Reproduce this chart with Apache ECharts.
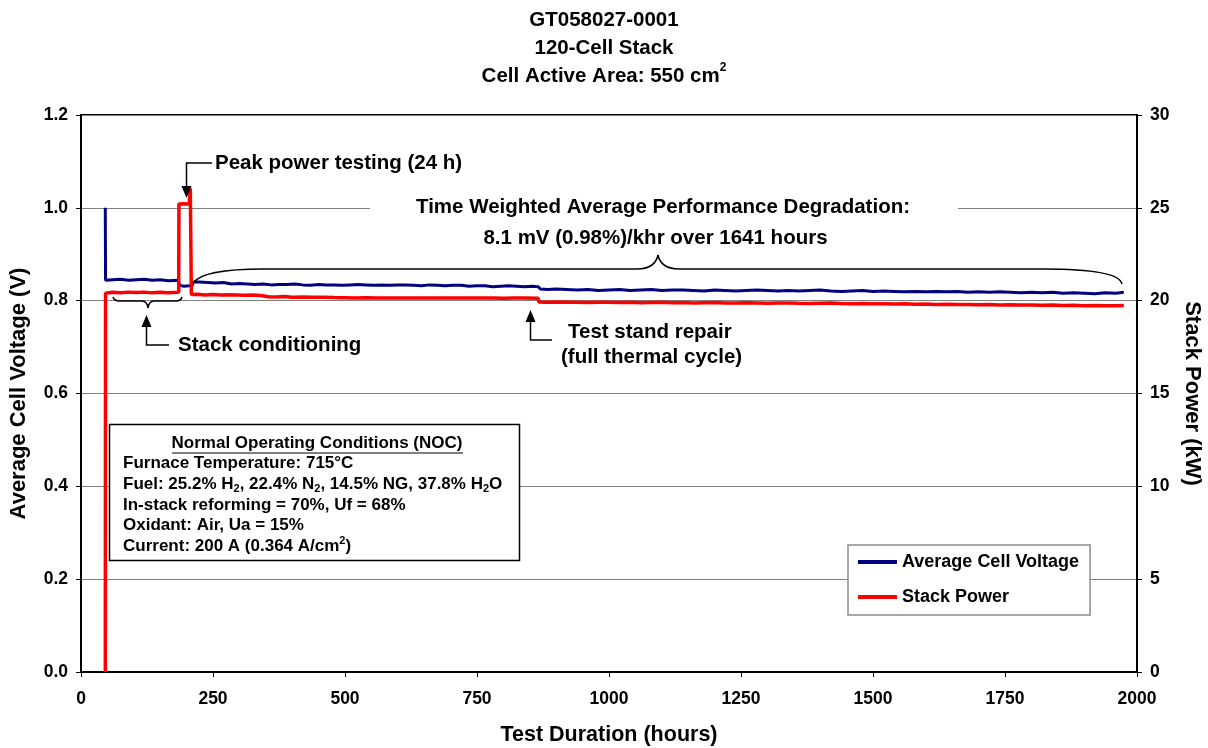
<!DOCTYPE html>
<html>
<head>
<meta charset="utf-8">
<script src="https://cdn.jsdelivr.net/npm/echarts@6/dist/echarts.min.js"></script>
<style>
  html, body { margin: 0; padding: 0; background: #fff; }
  #chart { width: 1208px; height: 748px; }
</style>
</head>
<body>
<div id="chart"></div>
<script>
// Average cell voltage (V) against test hours
const voltageHours = [
  46, 46.5, 60, 75, 90, 105, 120, 135, 150, 165, 184, 187, 195, 205, 211, 213,
  225, 240, 255, 270, 285, 300, 315, 330, 345, 360, 375, 390, 405, 420, 435, 450,
  465, 480, 495, 510, 525, 540, 555, 570, 585, 600, 615, 630, 645, 660, 675, 690,
  705, 720, 735, 750, 765, 780, 795, 810, 825, 840, 855, 866, 870, 885, 900, 920,
  940, 960, 980, 1000, 1020, 1040, 1060, 1080, 1100, 1120, 1140, 1160, 1180, 1200,
  1220, 1240, 1260, 1280, 1300, 1320, 1340, 1360, 1380, 1400, 1420, 1440, 1460,
  1480, 1500, 1520, 1540, 1560, 1580, 1600, 1620, 1640, 1660, 1680, 1700, 1720,
  1740, 1760, 1780, 1800, 1820, 1840, 1860, 1880, 1900, 1920, 1940, 1960, 1975
];
const voltage = [
  1.000, 0.844, 0.845, 0.846, 0.844, 0.845, 0.846, 0.844, 0.845, 0.843, 0.844, 0.833, 0.831, 0.832, 0.833, 0.840,
  0.840, 0.839, 0.838, 0.839, 0.836, 0.837, 0.836, 0.835, 0.836, 0.834, 0.835, 0.835, 0.836, 0.834, 0.833, 0.835,
  0.834, 0.834, 0.833, 0.834, 0.835, 0.834, 0.833, 0.834, 0.833, 0.834, 0.834, 0.833, 0.832, 0.834, 0.833, 0.832,
  0.833, 0.833, 0.831, 0.832, 0.832, 0.830, 0.831, 0.832, 0.831, 0.830, 0.831, 0.830, 0.825, 0.824, 0.825, 0.824,
  0.823, 0.824, 0.822, 0.823, 0.824, 0.822, 0.823, 0.824, 0.822, 0.823, 0.823, 0.822, 0.821, 0.823,
  0.822, 0.821, 0.822, 0.823, 0.822, 0.821, 0.822, 0.821, 0.822, 0.823, 0.821, 0.820, 0.821,
  0.822, 0.820, 0.821, 0.820, 0.819, 0.820, 0.819, 0.820, 0.819, 0.820, 0.818, 0.819, 0.818,
  0.819, 0.818, 0.817, 0.818, 0.817, 0.818, 0.816, 0.817, 0.816, 0.815, 0.817, 0.816, 0.818
];

// Stack power (kW) against test hours
const powerHours = [
  46, 46.5, 60, 75, 90, 105, 120, 135, 150, 165, 185, 185.5, 196, 205, 207, 209,
  220, 235, 250, 265, 280, 295, 310, 325, 340, 355, 370, 385, 400, 420, 440, 460,
  480, 500, 520, 540, 560, 580, 600, 620, 640, 660, 680, 700, 720, 740, 760, 780,
  800, 820, 840, 866, 867, 880, 900, 920, 940, 960, 980, 1000, 1020, 1040, 1060,
  1080, 1100, 1120, 1140, 1160, 1180, 1200, 1220, 1240, 1260, 1280, 1300, 1320,
  1340, 1360, 1380, 1400, 1420, 1440, 1460, 1480, 1500, 1520, 1540, 1560, 1580,
  1600, 1620, 1640, 1660, 1680, 1700, 1720, 1740, 1760, 1780, 1800, 1820, 1840,
  1860, 1880, 1900, 1920, 1940, 1960, 1975
];
const power = [
  0, 20.40, 20.45, 20.43, 20.46, 20.44, 20.46, 20.42, 20.45, 20.43, 20.45, 25.20, 25.22, 25.20, 26.05, 20.33,
  20.34, 20.31, 20.33, 20.30, 20.32, 20.31, 20.29, 20.30, 20.28, 20.21, 20.20, 20.22, 20.19, 20.20, 20.18, 20.19,
  20.17, 20.16, 20.15, 20.16, 20.15, 20.14, 20.15, 20.15, 20.14, 20.15, 20.14, 20.15, 20.14, 20.14, 20.15, 20.14,
  20.13, 20.14, 20.14, 20.13, 19.93, 19.92, 19.93, 19.91, 19.92, 19.90, 19.91, 19.92, 19.90, 19.91, 19.89,
  19.90, 19.91, 19.89, 19.90, 19.88, 19.89, 19.90, 19.88, 19.87, 19.89, 19.88, 19.86, 19.87,
  19.88, 19.86, 19.85, 19.86, 19.87, 19.85, 19.84, 19.85, 19.83, 19.84, 19.82, 19.83, 19.81,
  19.82, 19.80, 19.81, 19.79, 19.80, 19.78, 19.79, 19.77, 19.78, 19.76, 19.77, 19.75, 19.76,
  19.74, 19.75, 19.73, 19.74, 19.72, 19.73, 19.74
];

const seriesNames = ['Average Cell Voltage', 'Stack Power'];

const FONT = "'Liberation Sans', Arial, Helvetica, sans-serif";
const BLUE = '#000080';
const RED = '#ff0000';

const pair = (xs, ys) => xs.map((x, i) => [x, ys[i]]);

const bold = (size, extra) => Object.assign({ fontFamily: FONT, fontWeight: 'bold', fontSize: size, color: '#000' }, extra || {});

function textEl(text, x, y, size, align, extra) {
  return {
    type: 'text', z: 20, x: x, y: y,
    style: Object.assign({ text: text, fill: '#000', font: 'bold ' + size + 'px ' + FONT, align: align || 'left', verticalAlign: 'middle' }, extra || {})
  };
}
function polyline(points) {
  return { type: 'polyline', z: 20, shape: { points: points }, style: { stroke: '#000', lineWidth: 1.5, fill: null } };
}
function line(x1, y1, x2, y2) {
  return { type: 'line', z: 20, shape: { x1: x1, y1: y1, x2: x2, y2: y2 }, style: { stroke: '#000', lineWidth: 1.5 } };
}
function curve(x1, y1, cx, cy, x2, y2) {
  return { type: 'bezierCurve', z: 20, shape: { x1: x1, y1: y1, cpx1: cx, cpy1: cy, x2: x2, y2: y2 }, style: { stroke: '#000', lineWidth: 1.5, fill: null } };
}
function head(tx, ty, dir) {
  // dir: 1 = pointing down, -1 = pointing up
  const L = 12, W = 5;
  return { type: 'polygon', z: 20, shape: { points: [[tx, ty], [tx - W, ty - dir * L], [tx + W, ty - dir * L]] }, style: { fill: '#000' } };
}

const chart = echarts.init(document.getElementById('chart'), null, { renderer: 'canvas' });

const option = {
  animation: false,
  backgroundColor: '#fff',
  title: {
    left: 'center', top: 1,
    text: 'GT058027-0001\n120-Cell Stack\nCell Active Area: 550 cm{sup|2}',
    textStyle: bold(20.5, {
      lineHeight: 28,
      rich: { sup: { fontFamily: FONT, fontWeight: 'bold', fontSize: 12, lineHeight: 12, verticalAlign: 'top', color: '#000' } }
    })
  },
  grid: {
    left: 81, right: 71, top: 115, bottom: 76,
    outerBoundsMode: 'none', containLabel: false,
    show: true, borderColor: '#000', borderWidth: 2, backgroundColor: 'transparent'
  },
  legend: {
    data: seriesNames,
    orient: 'vertical',
    left: 848, top: 545,
    padding: [8, 11, 9, 10],
    itemGap: 17,
    itemWidth: 39, itemHeight: 4,
    icon: 'rect',
    backgroundColor: '#fff',
    borderColor: '#8c8c8c', borderWidth: 1.5,
    textStyle: bold(18),
    z: 20
  },
  xAxis: {
    type: 'value', min: 0, max: 2000, interval: 250,
    name: 'Test Duration (hours)', nameLocation: 'middle', nameGap: 52,
    nameTextStyle: bold(21.5),
    axisLine: { show: true, lineStyle: { color: '#000', width: 2 } },
    axisTick: { show: true, inside: false, length: 5, lineStyle: { color: '#000', width: 1 } },
    axisLabel: Object.assign(bold(17.5), { margin: 18, formatter: v => String(v) }),
    splitLine: { show: false }
  },
  yAxis: [
    {
      type: 'value', min: 0, max: 1.2, interval: 0.2, position: 'left',
      name: 'Average Cell Voltage (V)', nameLocation: 'middle', nameGap: 51, nameRotate: 90,
      nameTextStyle: bold(22),
      axisLine: { show: true, lineStyle: { color: '#000', width: 2 } },
      axisTick: { show: true, inside: false, length: 5, lineStyle: { color: '#000', width: 1 } },
      axisLabel: Object.assign(bold(17.5), { margin: 13, formatter: v => v.toFixed(1) }),
      splitLine: { show: true, lineStyle: { color: '#808080', width: 1 } }
    },
    {
      type: 'value', min: 0, max: 30, interval: 5, position: 'right',
      name: 'Stack Power (kW)', nameLocation: 'middle', nameGap: 44, nameRotate: -90,
      nameTextStyle: bold(22),
      axisLine: { show: true, lineStyle: { color: '#000', width: 2 } },
      axisTick: { show: true, inside: false, length: 5, lineStyle: { color: '#000', width: 1 } },
      axisLabel: Object.assign(bold(17.5), { margin: 13 }),
      splitLine: { show: false }
    }
  ],
  series: [
    {
      name: seriesNames[0], type: 'line', yAxisIndex: 0,
      data: pair(voltageHours, voltage),
      showSymbol: false, symbol: 'none',
      lineStyle: { color: BLUE, width: 3 }, itemStyle: { color: BLUE },
      z: 3
    },
    {
      name: seriesNames[1], type: 'line', yAxisIndex: 1,
      data: pair(powerHours, power),
      showSymbol: false, symbol: 'none',
      lineStyle: { color: RED, width: 3.5 }, itemStyle: { color: RED },
      z: 4
    }
  ],
  graphic: [
    // degradation note, boxed in white over the gridline
    { type: 'rect', z: 19, shape: { x: 370, y: 199, width: 588, height: 18 }, style: { fill: '#fff' } },
    textEl('Time Weighted Average Performance Degradation:', 663, 207, 20.5, 'center'),
    textEl('8.1 mV (0.98%)/khr over 1641 hours', 655.5, 238, 20.5, 'center'),
    // brace spanning the long-term run
    curve(193, 283, 203, 269, 263, 269),
    line(263, 269, 637, 269),
    curve(637, 269, 655, 269, 658, 255),
    curve(658, 255, 661, 269, 679, 269),
    line(679, 269, 1043, 269),
    curve(1043, 269, 1119, 269, 1122, 284),

    // peak power testing
    polyline([[212, 163], [186.5, 163], [186.5, 190]]),
    head(186.5, 198, 1),
    textEl('Peak power testing (24 h)', 215, 163, 20.5, 'left'),

    // stack conditioning
    curve(113, 297, 114, 301, 120, 301),
    line(120, 301, 142, 301),
    curve(142, 301, 147, 301, 148, 308),
    curve(148, 308, 149, 301, 154, 301),
    line(154, 301, 176, 301),
    curve(176, 301, 181, 301, 182, 297),
    polyline([[169, 345], [146.5, 345], [146.5, 322]]),
    head(146.5, 315, -1),
    textEl('Stack conditioning', 178, 345, 20.5, 'left'),

    // test stand repair
    polyline([[552, 340], [530.5, 340], [530.5, 317]]),
    head(530.5, 310, -1),
    textEl('Test stand repair', 568, 332, 20.5, 'left'),
    textEl('(full thermal cycle)', 561, 357, 20.5, 'left'),

    // operating conditions box
    { type: 'rect', z: 19, shape: { x: 109.5, y: 424.5, width: 410, height: 136 }, style: { fill: '#fff', stroke: '#000', lineWidth: 1.5 } },
    textEl('Normal Operating Conditions (NOC)', 317, 443, 17, 'center'),
    { type: 'line', z: 20, shape: { x1: 172, y1: 453, x2: 463, y2: 453 }, style: { stroke: '#000', lineWidth: 1.2 } },
    {
      type: 'text', z: 20, x: 123, y: 453.5,
      style: {
        text: [
          'Furnace Temperature: 715°C',
          'Fuel: 25.2% H{sub|2}, 22.4% N{sub|2}, 14.5% NG, 37.8% H{sub|2}O',
          'In-stack reforming = 70%, Uf = 68%',
          'Oxidant: Air, Ua = 15%',
          'Current: 200 A (0.364 A/cm{sup|2})'
        ].join('\n'),
        fill: '#000', font: 'bold 17px ' + FONT, lineHeight: 20.6,
        align: 'left', verticalAlign: 'top',
        rich: {
          sub: { font: 'bold 11px ' + FONT, fill: '#000', lineHeight: 12, verticalAlign: 'bottom' },
          sup: { font: 'bold 11px ' + FONT, fill: '#000', lineHeight: 12, verticalAlign: 'top' }
        }
      }
    }
  ]
};

chart.setOption(option);
</script>
</body>
</html>
